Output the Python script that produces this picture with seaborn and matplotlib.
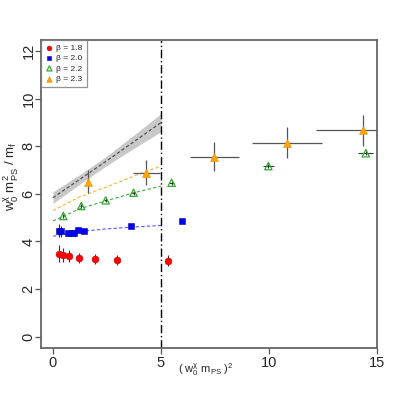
import numpy as np
import pandas as pd
import matplotlib
matplotlib.use("Agg")
import matplotlib.pyplot as plt
import seaborn as sns

# data
x_18 = [0.28, 0.45, 0.73, 1.19, 1.94, 2.95, 5.31]
y_18 = [3.48, 3.44, 3.38, 3.31, 3.27, 3.23, 3.19]
ey_18 = [0.35, 0.30, 0.25, 0.22, 0.20, 0.20, 0.22]

x_20 = [0.28, 0.36, 0.71, 0.86, 0.99, 1.14, 1.44, 3.61, 5.99]
y_20 = [4.46, 4.42, 4.35, 4.35, 4.37, 4.50, 4.46, 4.67, 4.84]
ey_20 = [0.28, 0.25, 0.10, 0.08, 0.08, 0.10, 0.08, 0.08, 0.08]

x_22 = [0.48, 1.31, 2.44, 3.73, 5.49, 9.97, 14.48]
y_22 = [5.07, 5.49, 5.73, 6.05, 6.47, 7.17, 7.71]
ex_22 = [0.03, 0.05, 0.06, 0.08, 0.12, 0.25, 0.35]
ey_22 = [0.08, 0.08, 0.08, 0.08, 0.08, 0.08, 0.08]

x_23 = [1.64, 4.32, 7.47, 10.83, 14.34]
y_23 = [6.51, 6.90, 7.57, 8.15, 8.67]
ex_23 = [0.05, 0.63, 1.13, 1.64, 2.16]
ey_23 = [0.49, 0.53, 0.60, 0.65, 0.67]

# chiral fits
fit_x = [0.0, 1.25, 2.5, 3.75, 5.0]
fit_20 = [4.22, 4.42, 4.53, 4.61, 4.67]
fit_22 = [4.86, 5.38, 5.72, 6.05, 6.33]
fit_23 = [5.30, 5.88, 6.30, 6.75, 7.17]
cont_mid = [5.84, 6.62, 7.40, 8.20, 9.00]
cont_lo = [5.60, 6.42, 7.20, 7.92, 8.62]
cont_hi = [6.09, 6.82, 7.60, 8.48, 9.38]

sns.set_style("ticks")
plt.rcParams['font.family'] = ['Liberation Sans', 'DejaVu Sans']
plt.rcParams['mathtext.fontset'] = 'custom'
plt.rcParams['mathtext.rm'] = 'Liberation Sans'
plt.rcParams['mathtext.it'] = 'Liberation Sans'
plt.rcParams['mathtext.default'] = 'regular'

fig = plt.figure(figsize=(3.99, 3.99), dpi=100)
ax = fig.add_axes([0.103, 0.128, 0.842, 0.772])

# continuum band + line
ax.fill_between(fit_x, cont_lo, cont_hi, color="#c8c8c8", lw=0)
sns.lineplot(x=fit_x, y=cont_mid, ax=ax, color="#444444", lw=0.8, linestyle=(0, (3, 2)))

sns.lineplot(x=fit_x, y=fit_20, ax=ax, color="#5555ff", lw=0.8, linestyle=(0, (3, 2)))
sns.lineplot(x=fit_x, y=fit_22, ax=ax, color="#44aa44", lw=0.8, linestyle=(0, (3, 2)))
sns.lineplot(x=fit_x, y=fit_23, ax=ax, color="#ffb033", lw=0.8, linestyle=(0, (3, 2)))

ax.axvline(5, color="black", lw=1.0, linestyle=(0, (6, 2, 1, 2)))

# error bars
ax.errorbar(x_18, y_18, yerr=ey_18, fmt="none", ecolor="#333333", elinewidth=0.8)
ax.errorbar(x_20, y_20, yerr=ey_20, fmt="none", ecolor="#333333", elinewidth=0.8)
ax.errorbar(x_22, y_22, xerr=ex_22, yerr=ey_22, fmt="none", ecolor="#333333", elinewidth=0.8)
ax.errorbar(x_23, y_23, xerr=ex_23, yerr=ey_23, fmt="none", ecolor="#555555", elinewidth=0.9)

sns.scatterplot(x=x_18, y=y_18, ax=ax, marker="o", color="red", edgecolor="#cc0000",
                s=24, label="β = 1.8", zorder=3)
sns.scatterplot(x=x_20, y=y_20, ax=ax, marker="s", color="#0000ee", edgecolor="#0000aa",
                s=24, label="β = 2.0", zorder=3)
sns.scatterplot(x=x_22, y=y_22, ax=ax, marker="^", facecolor="none", edgecolor="#33aa33",
                s=28, linewidth=0.9, label="β = 2.2", zorder=3)
sns.scatterplot(x=x_23, y=y_23, ax=ax, marker="^", color="#ffa500", edgecolor="#e69500",
                s=32, label="β = 2.3", zorder=3)

ax.set_xlim(-0.55, 15.0)
ax.set_ylim(-0.48, 12.48)
ax.set_xticks([0, 5, 10, 15])
ax.set_yticks([0, 2, 4, 6, 8, 10, 12])
ax.tick_params(direction="out", length=4, width=0.9, color="#555555", labelsize=10.5, pad=2)
ax.tick_params(axis="y", pad=0)
for lab in ax.get_yticklabels():
    lab.set_rotation(90)
    lab.set_va("center")
for s in ax.spines.values():
    s.set_color("#666666")
    s.set_linewidth(1.3)
ax.set_xlabel("")
ax.set_ylabel("")

fig.text(11 / 399, 1 - 176 / 399, r"$w_0^{\chi}\ m_{PS}^{2}\ /\ m_f$", rotation=90,
         ha="center", va="center", fontsize=9.5)
fig.text(206 / 399, 1 - 370 / 399, r"$(\ w_0^{\chi}\ m_{PS}\ )^2$", ha="center", va="center",
         fontsize=8)

leg = ax.legend(loc="upper left", borderaxespad=0, fontsize=6, frameon=True, fancybox=False,
                handletextpad=0.3, borderpad=0.5, labelspacing=0.3, handlelength=1.0,
                markerscale=0.7)
leg.get_frame().set_edgecolor("#777777")
leg.get_frame().set_linewidth(0.9)

fig.savefig("out.png", dpi=100)
